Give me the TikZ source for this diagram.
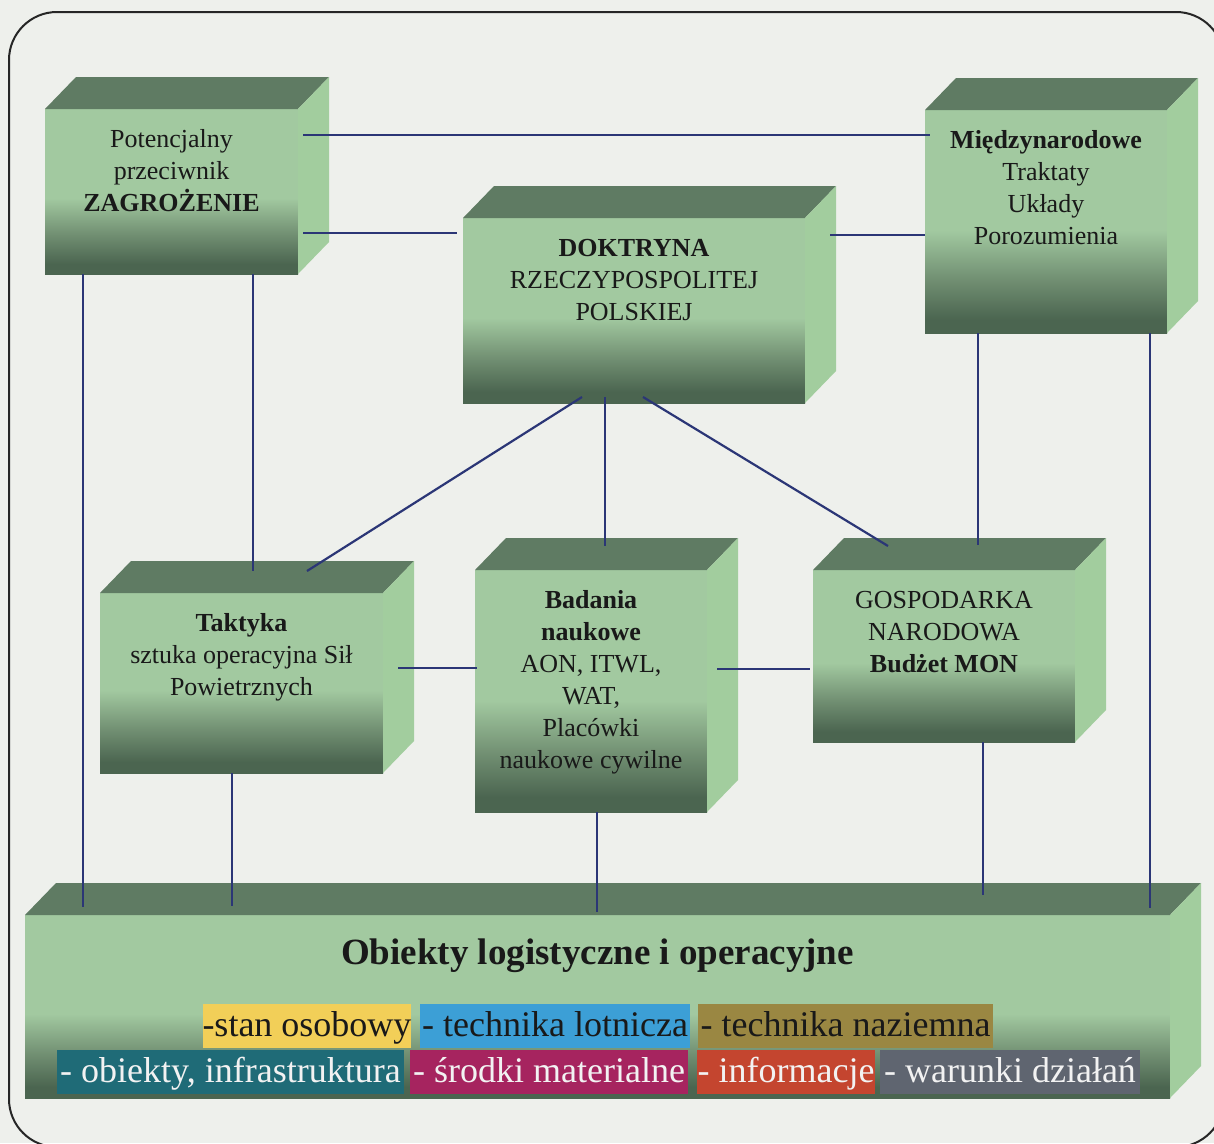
\documentclass[tikz,border=0pt]{standalone}
\usepackage{fontspec}
\setmainfont{Liberation Serif}
\usetikzlibrary{calc}

\definecolor{paper}{HTML}{EEF0EC}
\definecolor{fl}{HTML}{A2C9A0}
\definecolor{fm}{HTML}{718F72}
\definecolor{fd}{HTML}{4B6550}
\definecolor{ftop}{HTML}{5F7B63}
\definecolor{fside}{HTML}{A2CD9E}
\definecolor{conncol}{HTML}{2B3676}
\definecolor{cyel}{HTML}{F2CF58}
\definecolor{cblue}{HTML}{3C9FD6}
\definecolor{colive}{HTML}{9A8742}
\definecolor{cteal}{HTML}{1F6B77}
\definecolor{cmag}{HTML}{A6245F}
\definecolor{cred}{HTML}{C4452F}
\definecolor{cgray}{HTML}{5F6570}

\pgfdeclareverticalshading{frontshade}{100bp}{color(0bp)=(fd); color(28bp)=(fd); color(37bp)=(fm); color(48bp)=(fl); color(100bp)=(fl)}

\tikzset{
  front/.style={shade, shading=frontshade, draw=none, inner sep=0pt, outer sep=0pt, anchor=north west},
  topface/.style={fill=ftop},
  sideface/.style={fill=fside},
  boxtext/.style={anchor=north, inner sep=0pt, align=center, text=black!90, font=\fontsize{26}{32}\selectfont},
  conn/.style={draw=conncol, line width=2.2pt},
  tag/.style={inner sep=0pt, minimum height=44pt, text height=28pt, text depth=7pt, font=\fontsize{36}{40}\selectfont},
  tagdark/.style={tag, text=black!90},
  taglight/.style={tag, text=white!95!black},
}

\newcommand\cuboid[6]{%
  \node[front, minimum width=#4pt, minimum height=#5pt] (#1) at (#2,#3) {};
  \fill[topface] (#1.north west) -- ++(31,-32) -- ([shift={(31,-32)}]#1.north east) -- (#1.north east) -- cycle;
  \fill[sideface] (#1.north east) -- ++(31,-32) -- ([shift={(31,-32)}]#1.south east) -- (#1.south east) -- cycle;
  \node[boxtext] (#1-t) at ([shift={(0,16)}]#1.north) {\rule{0pt}{22pt}#6};
}

\begin{document}
\begin{tikzpicture}[x=1pt, y=-1pt]
  \useasboundingbox (0,0) rectangle (1214,1143);
  \fill[paper] (0,0) rectangle (1214,1143);
  \clip (0,0) rectangle (1214,1143);
  \draw[line width=2pt, draw=black!85, rounded corners=48pt] (9,12) rectangle (1224,1147);

  % boxes
  \cuboid{pot}{45}{109}{253}{165}{Potencjalny\\przeciwnik\\\textbf{ZAGROŻENIE}}
  \cuboid{dok}{463}{218}{342}{185}{\textbf{DOKTRYNA}\\RZECZYPOSPOLITEJ\\POLSKIEJ}
  \cuboid{mie}{925}{110}{242}{223}{\textbf{Międzynarodowe}\\Traktaty\\Układy\\Porozumienia}
  \cuboid{tak}{100}{593}{283}{180}{\textbf{Taktyka}\\sztuka operacyjna Sił\\Powietrznych}
  \cuboid{bad}{475}{570}{232}{242}{\textbf{Badania}\\\textbf{naukowe}\\AON, ITWL,\\WAT,\\Placówki\\naukowe cywilne}
  \cuboid{gos}{813}{570}{262}{172}{GOSPODARKA\\NARODOWA\\\textbf{Budżet MON}}
  \cuboid{obj}{25}{915}{1145}{183}{}

  % connectors
  \draw[conn] ([shift={(5,26)}]pot.north east) -- ([shift={(5,25)}]mie.north west);
  \draw[conn] ([shift={(5,124)}]pot.north east) -- ([shift={(-6,15)}]dok.north west);
  \draw[conn] ([shift={(25,17)}]dok.north east) -- ([shift={(0,125)}]mie.north west);
  \draw[conn] ([shift={(38,0)}]pot.south west) -- ([shift={(58,-8)}]obj.north west);
  \draw[conn] ([shift={(208,0)}]pot.south west) -- ([shift={(153,-22)}]tak.north west);
  \draw[conn] ([shift={(119,-6)}]dok.south west) -- ([shift={(207,-22)}]tak.north west);
  \draw[conn] ([shift={(142,-6)}]dok.south west) -- ([shift={(130,-24)}]bad.north west);
  \draw[conn] ([shift={(180,-6)}]dok.south west) -- ([shift={(75,-24)}]gos.north west);
  \draw[conn] ([shift={(53,0)}]mie.south west) -- ([shift={(165,-25)}]gos.north west);
  \draw[conn] ([shift={(225,0)}]mie.south west) -- ([shift={(1125,-7)}]obj.north west);
  \draw[conn] ([shift={(15,75)}]tak.north east) -- ([shift={(2,98)}]bad.north west);
  \draw[conn] ([shift={(10,99)}]bad.north east) -- ([shift={(-3,99)}]gos.north west);
  \draw[conn] ([shift={(132,0)}]tak.south west) -- ([shift={(207,-9)}]obj.north west);
  \draw[conn] ([shift={(122,0)}]bad.south west) -- ([shift={(572,-3)}]obj.north west);
  \draw[conn] ([shift={(170,0)}]gos.south west) -- ([shift={(958,-20)}]obj.north west);

  % bottom box content
  \node[anchor=base, inner sep=0pt, text=black!90, font=\bfseries\fontsize{37}{40}\selectfont] (title) at ([shift={(0,49)}]obj.north) {Obiekty logistyczne i operacyjne};

  \node[tagdark, fill=cyel, minimum width=208pt] (t1) at (307,1026) {-stan osobowy};
  \node[tagdark, fill=cblue, minimum width=270pt] (t2) at (555,1026) {- technika lotnicza};
  \node[tagdark, fill=colive, minimum width=295pt] (t3) at (845.5,1026) {- technika naziemna};
  \node[taglight, fill=cteal, minimum width=347pt] (t4) at (230.5,1072) {- obiekty, infrastruktura};
  \node[taglight, fill=cmag, minimum width=278pt] (t5) at (549,1072) {- środki materialne};
  \node[taglight, fill=cred, minimum width=178pt] (t6) at (786,1072) {- informacje};
  \node[taglight, fill=cgray, minimum width=260pt] (t7) at (1010,1072) {- warunki działań};
\end{tikzpicture}
\end{document}
